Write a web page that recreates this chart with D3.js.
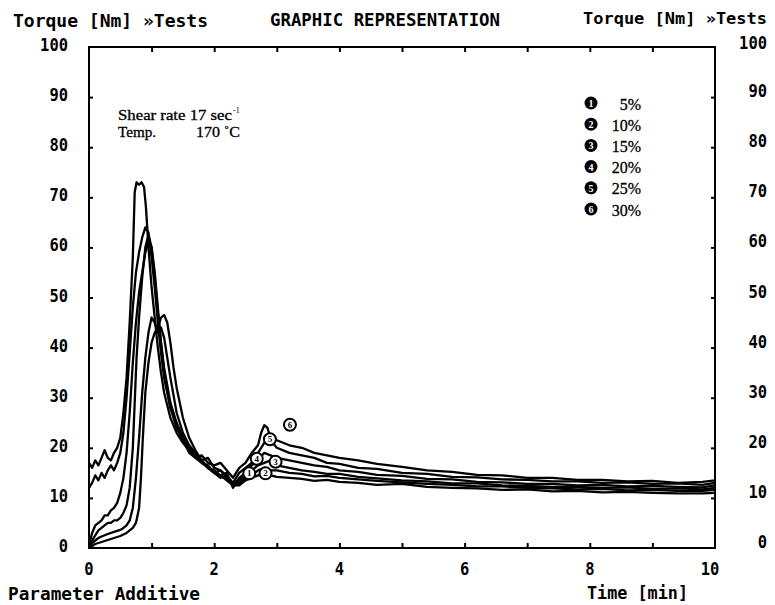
<!DOCTYPE html>
<html><head><meta charset="utf-8">
<script src="https://cdn.jsdelivr.net/npm/d3@7"></script>
<style>body{margin:0;background:#fff}svg{display:block}</style>
</head><body><svg id="c" width="775" height="605"></svg>
<script>
// ---- data ----
const legendLabels = ["5%","10%","15%","20%","25%","30%"];
const xTicks = [0,2,4,6,8,10];
const yTicks = [0,10,20,30,40,50,60,70,80,90,100];
const s5 = [[0,0],[0.1,0.8],[0.2,1.2],[0.3,1.6],[0.4,2],[0.5,2.4],[0.6,3],[0.65,3.5],[0.7,4],[0.75,5],[0.8,8],[0.83,14],[0.86,22],[0.9,31],[0.95,37],[1.0,41],[1.05,43],[1.1,44],[1.15,46],[1.2,46.5],[1.25,45],[1.3,41],[1.35,36],[1.4,32],[1.5,26],[1.6,22],[1.7,19.5],[1.8,17.5],[1.9,16],[2.0,15],[2.1,14],[2.2,14.5],[2.3,12.5],[2.4,12.5],[2.5,13.5],[2.6,14],[2.7,14.5],[2.8,15],[2.9,14.5],[3.0,14.2],[3.2,14],[3.4,13.8],[3.6,13.4],[3.8,13.6],[4.0,13.2],[4.3,13],[4.6,12.6],[5.0,12.8],[5.4,12.2],[5.8,12],[6.2,11.9],[6.6,11.6],[7.0,11.7],[7.4,11.3],[7.8,11.4],[8.2,11.1],[8.6,11.2],[9.0,11],[9.4,10.9],[9.8,10.9],[10,11]];
const s10 = [[0,0],[0.05,1],[0.1,1.5],[0.15,2],[0.2,2.3],[0.3,2.8],[0.4,3.2],[0.5,3.6],[0.55,4],[0.6,4.5],[0.65,5.5],[0.7,8],[0.75,14],[0.8,22],[0.85,31],[0.9,38],[0.95,43],[1.0,46],[1.05,45],[1.1,43],[1.15,44],[1.2,42],[1.25,38],[1.3,34],[1.4,27],[1.5,23],[1.6,20.5],[1.7,19],[1.8,17.5],[1.9,16],[2.0,15],[2.1,14.5],[2.2,13.5],[2.3,12.5],[2.4,13],[2.5,14],[2.6,14.5],[2.7,15.5],[2.8,16],[2.9,15.5],[3.0,15.5],[3.2,15],[3.4,14.8],[3.6,14.3],[3.8,14.4],[4.0,14],[4.3,13.7],[4.6,13.4],[5.0,13.1],[5.4,12.8],[5.8,12.6],[6.2,12.3],[6.6,12.3],[7.0,12],[7.4,11.9],[7.8,11.7],[8.2,11.8],[8.6,11.5],[9.0,11.6],[9.4,11.4],[9.8,11.4],[10,11.6]];
const s15 = [[0,0],[0.05,1.5],[0.1,2.5],[0.15,3.5],[0.2,4],[0.25,4.5],[0.3,5],[0.35,5],[0.4,5.5],[0.45,5.5],[0.5,6],[0.55,7],[0.6,8.5],[0.65,12],[0.7,20],[0.73,29],[0.76,38],[0.8,46],[0.85,54],[0.9,60],[0.95,62.5],[1.0,60],[1.05,54],[1.1,47],[1.15,41],[1.2,36],[1.3,29],[1.4,25],[1.5,22],[1.6,20],[1.7,18.5],[1.8,17],[1.9,16.5],[2.0,15],[2.1,15.5],[2.2,14],[2.3,13],[2.4,13.5],[2.5,14.5],[2.6,15.5],[2.7,16.5],[2.8,17],[2.9,17.5],[3.0,16.5],[3.2,16],[3.4,15.5],[3.6,15.2],[3.8,14.8],[4.0,14.8],[4.3,14.2],[4.6,13.9],[5.0,13.5],[5.4,13.3],[5.8,12.9],[6.2,12.9],[6.6,12.5],[7.0,12.4],[7.4,12.2],[7.8,12.2],[8.2,12],[8.6,12.1],[9.0,11.8],[9.4,11.9],[9.8,11.7],[10,12]];
const s20 = [[0,0.5],[0.05,3],[0.1,4.5],[0.15,5],[0.2,5.5],[0.25,6.5],[0.3,6.5],[0.35,7.5],[0.4,8],[0.45,9],[0.5,11],[0.55,14],[0.6,19],[0.65,27],[0.7,37],[0.75,45],[0.8,51],[0.85,55],[0.9,59],[0.95,61],[1.0,60],[1.05,55],[1.1,48],[1.15,41],[1.2,35],[1.3,28],[1.4,24],[1.5,21.5],[1.6,19],[1.7,18],[1.8,17],[1.9,16],[2.0,15.5],[2.1,14.5],[2.2,15],[2.3,12],[2.4,14],[2.5,15],[2.6,16.5],[2.7,17.5],[2.8,19],[2.9,18.5],[3.0,18],[3.2,17.5],[3.4,17],[3.6,16.5],[3.8,16.2],[4.0,15.5],[4.3,15.2],[4.6,14.6],[5.0,14.4],[5.4,13.8],[5.8,13.7],[6.2,13.2],[6.6,13.1],[7.0,12.8],[7.4,12.8],[7.8,12.5],[8.2,12.6],[8.6,12.3],[9.0,12.4],[9.4,12.2],[9.8,12.1],[10,12.5]];
const s25 = [[0,12],[0.05,13],[0.1,14.5],[0.15,13.5],[0.2,15],[0.25,14],[0.3,15.5],[0.35,16.5],[0.4,15.5],[0.45,17],[0.5,19],[0.55,23],[0.6,30],[0.65,39],[0.7,48],[0.75,55],[0.8,59],[0.85,62],[0.9,64],[0.95,63],[1.0,58],[1.05,52],[1.1,45],[1.15,39],[1.2,34],[1.3,28],[1.4,24.5],[1.5,22],[1.6,20],[1.7,19],[1.8,17.5],[1.9,18],[2.0,16],[2.1,15.5],[2.2,14.5],[2.3,13],[2.4,15],[2.5,16],[2.6,17],[2.7,19],[2.8,21],[2.9,21.5],[3.0,20],[3.2,19],[3.4,18.5],[3.6,18],[3.8,17],[4.0,16.8],[4.3,16],[4.6,15.8],[5.0,15],[5.4,14.8],[5.8,14.2],[6.2,14.1],[6.6,13.7],[7.0,13.6],[7.4,13.3],[7.8,13.3],[8.2,13],[8.6,13.1],[9.0,12.8],[9.4,12.9],[9.8,12.6],[10,13]];
const s30 = [[0,17],[0.05,16],[0.1,17.5],[0.15,16.5],[0.2,18],[0.25,19.5],[0.3,18],[0.35,17.5],[0.4,19],[0.45,20],[0.5,22],[0.55,27],[0.6,34],[0.65,45],[0.7,58],[0.73,71],[0.76,73],[0.8,72.5],[0.84,73],[0.88,72],[0.91,68],[0.95,60],[1.0,52],[1.05,46],[1.1,40],[1.15,35],[1.2,31],[1.3,26],[1.4,23],[1.5,21],[1.6,19.5],[1.7,18],[1.8,18.5],[1.9,17],[2.0,16.5],[2.1,17],[2.2,15.5],[2.3,14],[2.4,16],[2.5,17],[2.6,19],[2.7,20.5],[2.75,23],[2.8,24.5],[2.85,24],[2.9,22],[3.0,21.5],[3.2,20.5],[3.4,20],[3.6,19],[3.8,18.5],[4.0,18],[4.3,17.5],[4.6,16.8],[5.0,16.2],[5.4,15.5],[5.8,15.2],[6.2,14.6],[6.6,14.5],[7.0,14],[7.4,14],[7.8,13.6],[8.2,13.6],[8.6,13.3],[9.0,13.4],[9.4,13],[9.8,13.2],[10,13.5]];
const seriesList = [s5,s10,s15,s20,s25,s30];
// curve number markers near the second maximum: [number, time, torque]
const markerNums = [6,5,4,3,2,1];
const markerPos = [[3.21,24.6],[2.89,21.7],[2.68,17.8],[2.98,17.2],[2.82,14.9],[2.56,14.9]];

// ---- layout ----
const svg = d3.select("#c");
const x = d3.scaleLinear().domain([0,10]).range([89,715]);
const y = d3.scaleLinear().domain([0,100]).range([548,47]);
const mono = "'DejaVu Sans Mono', 'Liberation Mono', monospace";
const serif = "'Liberation Serif', 'DejaVu Serif', serif";

// frame
svg.append("rect").attr("x",x(0)).attr("y",y(100)).attr("width",x(10)-x(0)).attr("height",y(0)-y(100))
  .attr("fill","none").attr("stroke","#000").attr("stroke-width",2);

// axes (inward ticks)
const xMinor = d3.range(1,10);
svg.append("g").attr("transform",`translate(0,${y(0)})`)
  .call(d3.axisTop(x).tickValues(xMinor).tickSize(5).tickFormat(""))
  .call(g=>g.select(".domain").remove()).selectAll("line").attr("stroke-width",2);
svg.append("g").attr("transform",`translate(0,${y(100)})`)
  .call(d3.axisBottom(x).tickValues(xMinor).tickSize(5).tickFormat(""))
  .call(g=>g.select(".domain").remove()).selectAll("line").attr("stroke-width",2);
svg.append("g").attr("transform",`translate(${x(0)},0)`)
  .call(d3.axisRight(y).tickValues(yTicks.slice(1,-1)).tickSize(4).tickFormat(""))
  .call(g=>g.select(".domain").remove()).selectAll("line").attr("stroke-width",2);
svg.append("g").attr("transform",`translate(${x(10)},0)`)
  .call(d3.axisLeft(y).tickValues(yTicks.slice(1,-1)).tickSize(4).tickFormat(""))
  .call(g=>g.select(".domain").remove()).selectAll("line").attr("stroke-width",2);

// tick labels
const lbl = (t, px, py, anchor, size, len) => {
  const e = svg.append("text").text(t).attr("x",px).attr("y",py)
    .attr("text-anchor",anchor).attr("dominant-baseline","central")
    .attr("font-family",mono).attr("font-weight","bold").attr("font-size",size).attr("fill","#000");
  if (len) e.attr("textLength",len).attr("lengthAdjust","spacingAndGlyphs");
  return e;
};
yTicks.forEach(v => {
  lbl(String(v), 68, y(v)-2.5, "end", 18.5, String(v).length*9.3);
  lbl(String(v), 767, y(v)-(v===100?5:6.5), "end", 18.5, String(v).length*9.3);
});
xTicks.forEach(v => lbl(String(v), x(v)-(v===10?5:0), 568, "middle", 18.5, String(v).length*9.3));

// titles
lbl("Torque [Nm] \u00bbTests", 13, 20, "start", 18, 195);
lbl("GRAPHIC REPRESENTATION", 270, 19, "start", 18, 230);
lbl("Torque [Nm] \u00bbTests", 583, 18, "start", 16.5, 184);
lbl("Parameter Additive", 8, 593, "start", 18, 192);
lbl("Time [min]", 587, 592, "start", 18, 101);

// conditions text
const cond = svg.append("g").attr("font-family",serif).attr("font-size",14).attr("fill","#000")
  .attr("stroke","#000").attr("stroke-width",0.3);
cond.append("text").attr("x",118).attr("y",120).attr("textLength",114).attr("lengthAdjust","spacingAndGlyphs").text("Shear rate 17 sec");
cond.append("text").attr("x",233).attr("y",113).attr("font-size",8).attr("stroke-width",0).text("-1");
cond.append("text").attr("x",118).attr("y",137).attr("textLength",38).attr("lengthAdjust","spacingAndGlyphs").text("Temp.");
cond.append("text").attr("x",196).attr("y",137).attr("textLength",44).attr("lengthAdjust","spacingAndGlyphs").text("170 \u02daC");

// curves
const line = d3.line().x(d=>x(d[0])).y(d=>y(d[1])).curve(d3.curveLinear);
svg.append("g").selectAll("path").data(seriesList).join("path")
  .attr("d",line).attr("fill","none").attr("stroke","#000").attr("stroke-width",2.3).attr("stroke-linejoin","round");

// number markers at the second maximum
const mk = svg.append("g");
markerPos.forEach((p,i) => {
  const g = mk.append("g").attr("transform",`translate(${x(p[0])},${y(p[1])})`);
  g.append("circle").attr("r",6).attr("fill","#fff").attr("stroke","#000").attr("stroke-width",2);
  g.append("text").text(markerNums[i]).attr("text-anchor","middle").attr("dominant-baseline","central")
    .attr("font-family",serif).attr("font-weight","bold").attr("font-size",9).attr("fill","#000");
});

// legend
const lg = svg.append("g");
legendLabels.forEach((l,i) => {
  const cy = 103 + i*21.2;
  lg.append("circle").attr("cx",591).attr("cy",cy).attr("r",6.5).attr("fill","#000");
  lg.append("text").text(i+1).attr("x",591).attr("y",cy+0.5).attr("text-anchor","middle").attr("dominant-baseline","central")
    .attr("font-family",serif).attr("font-weight","bold").attr("font-size",10).attr("fill","#fff");
  lg.append("text").text(l).attr("x",641).attr("y",cy+1).attr("text-anchor","end").attr("dominant-baseline","central")
    .attr("font-family",serif).attr("font-size",16).attr("fill","#000").attr("stroke","#000").attr("stroke-width",0.3);
});
</script></body></html>
